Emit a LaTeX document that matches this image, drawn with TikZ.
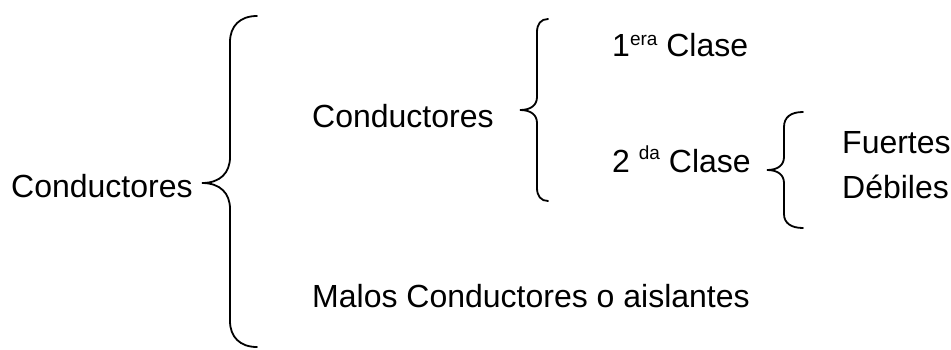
\documentclass[tikz,border=0pt]{standalone}
\usepackage{fontspec}
\setmainfont{Liberation Sans}
\begin{document}
\begin{tikzpicture}[x=1pt,y=-1pt,
  lbl/.style={anchor=base west,inner sep=0pt,font=\fontsize{32}{36}\selectfont},
  brace/.style={line width=1.8pt,line cap=round}]
\useasboundingbox (0,0) rectangle (951,349);

% labels
\node[lbl] (root) at (11,197) {Conductores};
\node[lbl] (cond) at (312,127) {Conductores};
\node[lbl] (malos) at (312,307) {Malos Conductores o aislantes};
\node[lbl] (primera) at (612,56) {1\raisebox{11pt}{\fontsize{19}{22}\selectfont era} Clase};
\node[lbl] (segunda) at (612,172) {2 \raisebox{13pt}{\fontsize{19}{22}\selectfont da} Clase};
\node[lbl] (fuertes) at (842,153) {Fuertes};
\node[lbl] (debiles) at (842,198) {Débiles};

% brace points
\coordinate (b1top) at (257,16);
\coordinate (b1tip) at (202,183);
\coordinate (b1bot) at (257,347);
\coordinate (b2top) at (548,19);
\coordinate (b2tip) at (520,110);
\coordinate (b2bot) at (548,201);
\coordinate (b3top) at (803,112);
\coordinate (b3tip) at (767,170);
\coordinate (b3bot) at (803,228);

% large brace
\draw[brace] (b1top) .. controls (240,16) and (230,26) .. (230,42)
  -- (230,157) .. controls (230,173) and (220,183) .. (b1tip)
  .. controls (220,183) and (230,193) .. (230,209)
  -- (230,321) .. controls (230,337) and (240,347) .. (b1bot);

% middle brace
\draw[brace] (b2top) .. controls (541,19) and (537,24) .. (537,32)
  -- (537,97) .. controls (537,105) and (531,110) .. (b2tip)
  .. controls (531,110) and (537,115) .. (537,123)
  -- (537,188) .. controls (537,196) and (541,201) .. (b2bot);

% small brace
\draw[brace] (b3top) .. controls (791,112) and (784,117) .. (784,127)
  -- (784,157) .. controls (784,165) and (778,170) .. (b3tip)
  .. controls (778,170) and (784,175) .. (784,183)
  -- (784,214) .. controls (784,223) and (791,228) .. (b3bot);
\end{tikzpicture}
\end{document}
